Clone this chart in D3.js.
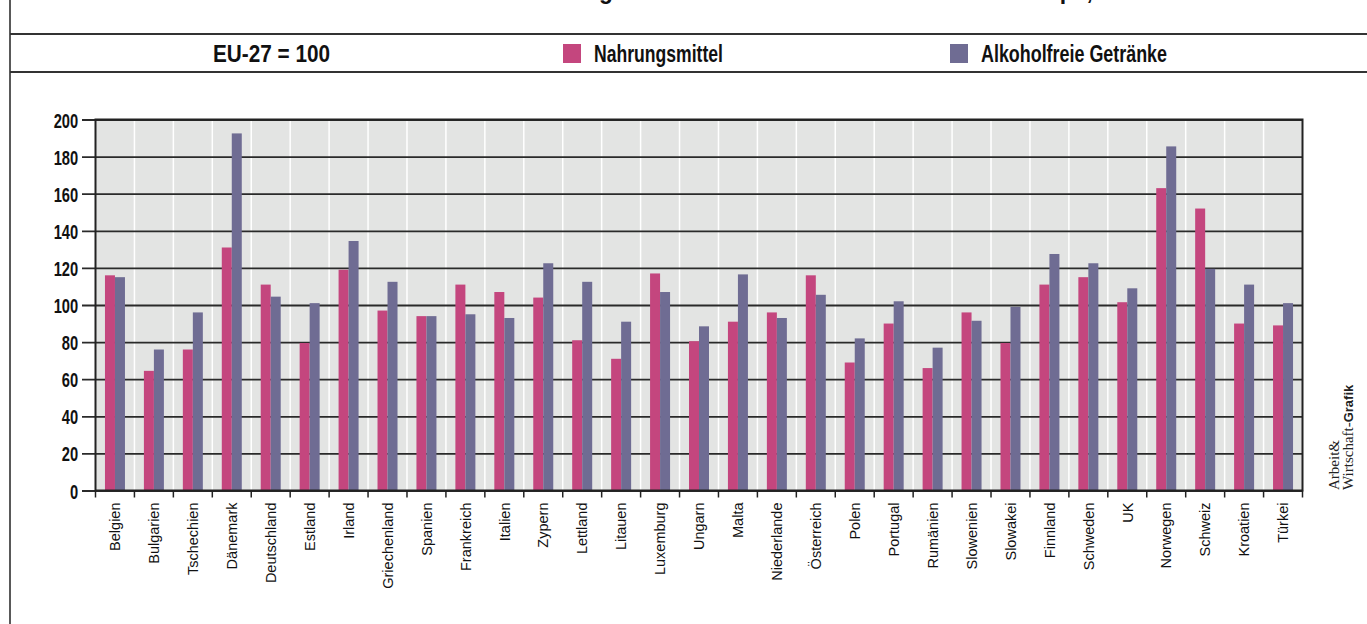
<!DOCTYPE html>
<html>
<head>
<meta charset="utf-8">
<script src="https://cdn.jsdelivr.net/npm/d3@7"></script>
<style>
  html, body { margin: 0; padding: 0; background: #fff; }
  svg { display: block; }
  text { font-family: "Liberation Sans", Arial, sans-serif; }
</style>
</head>
<body>
<div id="chart"></div>
<script>
// data (EU-27 = 100)
const countries = ["Belgien", "Bulgarien", "Tschechien", "Dänemark", "Deutschland", "Estland", "Irland",
  "Griechenland", "Spanien", "Frankreich", "Italien", "Zypern", "Lettland", "Litauen", "Luxemburg",
  "Ungarn", "Malta", "Niederlande", "Österreich", "Polen", "Portugal", "Rumänien", "Slowenien",
  "Slowakei", "Finnland", "Schweden", "UK", "Norwegen", "Schweiz", "Kroatien", "Türkei"];
const nahrungsmittel = [116, 64.5, 76, 131, 111, 79.5, 119, 97, 94, 111, 107, 104, 81, 71, 117,
  80.5, 91, 96, 116, 69, 90, 66, 96, 79.5, 111, 115, 101.5, 163, 152, 90, 89];
const getraenke = [115, 76, 96, 192.5, 104.5, 101, 134.5, 112.5, 94, 95, 93, 122.5, 112.5, 91, 107,
  88.5, 116.5, 93, 105.5, 82, 102, 77, 91.5, 99, 127.5, 122.5, 109, 185.5, 119.5, 111, 101];
const yTicks = [0, 20, 40, 60, 80, 100, 120, 140, 160, 180, 200];
const seriesNames = ["Nahrungsmittel", "Alkoholfreie Getränke"];
const seriesColors = ["#c4467e", "#6f6c93"];

const W = 1367, H = 624;
const margin = {top: 119.5, left: 95.5, right: 1302.5, bottom: 490.5};

const svg = d3.select("#chart").append("svg").attr("width", W).attr("height", H);
svg.append("rect").attr("width", W).attr("height", H).attr("fill", "#fff");

// title, nearly all of it lies above the top edge
svg.append("text")
  .attr("x", 270).attr("y", -1)
  .attr("textLength", 880).attr("lengthAdjust", "spacingAndGlyphs")
  .attr("font-size", 26).attr("font-weight", "bold")
  .attr("fill", "#111")
  .text("Preisniveauindizes für Nahrungsmittel und alkoholfreie Getränke in Europa, 2012");

// frame lines
svg.append("line").attr("x1", 10).attr("x2", 10).attr("y1", 0).attr("y2", H)
  .attr("stroke", "#222").attr("stroke-width", 1.5);
[34, 72].forEach(y => {
  svg.append("line").attr("x1", 10).attr("x2", W).attr("y1", y).attr("y2", y)
    .attr("stroke", "#333").attr("stroke-width", 1.8);
});

// header row
const header = svg.append("g").attr("font-weight", "bold")
  .attr("font-size", 24).attr("fill", "#111");
header.append("text").attr("x", 213).attr("y", 62)
  .attr("textLength", 117).attr("lengthAdjust", "spacingAndGlyphs")
  .text("EU-27 = 100");
const legendX = [563, 950];
const legendLen = [129, 186];
seriesNames.forEach((s, i) => {
  header.append("rect").attr("x", legendX[i]).attr("y", 44).attr("width", 18).attr("height", 19)
    .attr("fill", seriesColors[i]);
  header.append("text").attr("x", legendX[i] + 31).attr("y", 62)
    .attr("textLength", legendLen[i]).attr("lengthAdjust", "spacingAndGlyphs")
    .text(s);
});

// scales
const x = d3.scaleBand().domain(countries).range([margin.left, margin.right]).padding(0);
const x1 = d3.scaleBand().domain(seriesNames)
  .range([x.bandwidth() / 2 - 10, x.bandwidth() / 2 + 10]);
const y = d3.scaleLinear().domain([0, 200]).range([margin.bottom, margin.top]);

// plot background
svg.append("rect")
  .attr("x", margin.left).attr("y", margin.top)
  .attr("width", margin.right - margin.left).attr("height", margin.bottom - margin.top)
  .attr("fill", "#e3e4e3");

// white vertical separators
const bounds = countries.map(c => x(c)).concat([margin.right]);
svg.append("g").selectAll("line").data(bounds.slice(1, -1)).enter().append("line")
  .attr("x1", d => d).attr("x2", d => d)
  .attr("y1", margin.top).attr("y2", margin.bottom)
  .attr("stroke", "#fff").attr("stroke-width", 1.5);

// horizontal grid lines
const grid = svg.append("g")
  .attr("transform", "translate(" + margin.right + ",0)")
  .call(d3.axisLeft(y).tickValues(yTicks).tickSize(margin.right - 82).tickFormat(""));
grid.select(".domain").remove();
grid.selectAll(".tick line").attr("stroke", "#2a2a2a").attr("stroke-width", 1.8);

// y labels (condensed by a horizontal scale)
const yAxis = svg.append("g")
  .attr("transform", "translate(82,0)")
  .call(d3.axisLeft(y).tickValues(yTicks).tickSize(0).tickPadding(5.5));
yAxis.select(".domain").remove();
yAxis.selectAll(".tick text")
  .attr("font-size", 21).attr("font-weight", "bold").attr("fill", "#111")
  .attr("dy", "0.36em")
  .attr("transform", "scale(0.7,1)");

// bars
const rows = countries.map((c, i) => ({country: c, vals: [nahrungsmittel[i], getraenke[i]]}));
const grp = svg.append("g").selectAll("g").data(rows).enter().append("g")
  .attr("transform", d => "translate(" + x(d.country) + ",0)");
grp.selectAll("rect").data(d => d.vals.map((v, i) => ({key: seriesNames[i], v: v, i: i})))
  .enter().append("rect")
  .attr("x", d => x1(d.key))
  .attr("width", x1.bandwidth())
  .attr("y", d => y(d.v))
  .attr("height", d => y(0) - y(d.v))
  .attr("fill", d => seriesColors[d.i]);

// plot border
svg.append("rect")
  .attr("x", margin.left).attr("y", margin.top)
  .attr("width", margin.right - margin.left).attr("height", margin.bottom - margin.top)
  .attr("fill", "none").attr("stroke", "#222").attr("stroke-width", 2);

// bottom ticks at band boundaries
svg.append("g").selectAll("line").data(bounds).enter().append("line")
  .attr("x1", d => d).attr("x2", d => d)
  .attr("y1", margin.bottom).attr("y2", margin.bottom + 7)
  .attr("stroke", "#222").attr("stroke-width", 1.5);

// country labels
svg.append("g").selectAll("text").data(countries).enter().append("text")
  .attr("transform", d => "translate(" + (x(d) + x.bandwidth() / 2) + "," + (margin.bottom + 12) + ") rotate(-90)")
  .attr("text-anchor", "end")
  .attr("dy", "0.36em")
  .attr("font-size", 14.5)
  .attr("fill", "#111")
  .text(d => d);

// credit
const credit = svg.append("g").attr("transform", "translate(1339,490) rotate(-90)");
credit.append("text").attr("x", 0).attr("y", 0)
  .attr("font-family", "Liberation Serif, serif").attr("font-size", 15).attr("fill", "#222")
  .style("font-family", "'Liberation Serif', serif")
  .text("Arbeit&");
const c2 = credit.append("text").attr("x", 0).attr("y", 14)
  .style("font-family", "'Liberation Serif', serif").attr("font-size", 15).attr("fill", "#222");
c2.append("tspan").text("Wirtschaft-");
c2.append("tspan").style("font-family", "'Liberation Sans', sans-serif")
  .attr("font-weight", "bold").attr("font-size", 13).text("Grafik");
</script>
</body>
</html>
